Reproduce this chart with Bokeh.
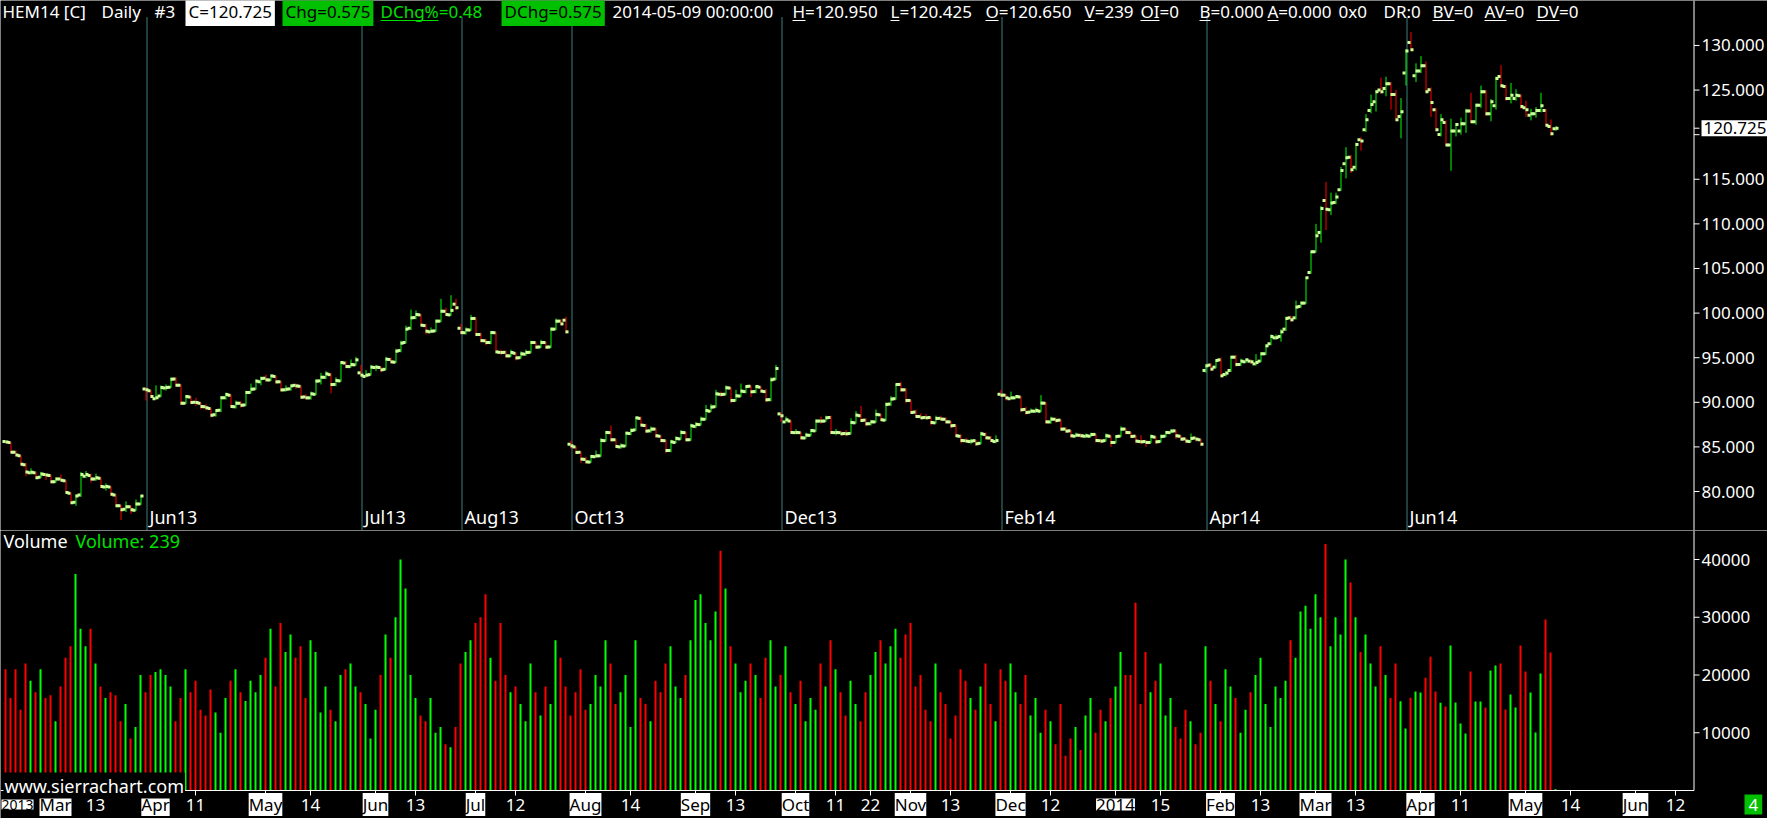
from bokeh.plotting import figure
from bokeh.models import ColumnDataSource, Range1d, Label, LabelSet
from bokeh.layouts import column
from bokeh.transform import dodge
from bokeh.core.properties import value
from bokeh.embed import file_html
from bokeh.resources import INLINE

# ---------------- data (one entry per daily bar, HEM14 continuous) ----------------
opens = [
    85.60, 85.50, 84.40, 84.00, 83.00, 82.10, 82.10, 81.60, 81.90, 81.80, 81.10, 81.40, 81.20, 79.80,
    78.80, 79.60, 81.70, 81.80, 81.40, 81.50, 80.50, 80.50, 79.60, 78.40, 78.00, 78.30, 77.90, 78.60,
    91.50, 91.30, 90.40, 90.70, 91.60, 91.70, 92.60, 91.90, 89.90, 90.60, 90.00, 89.90, 89.50, 89.30,
    88.60, 89.10, 90.50, 90.80, 89.50, 89.90, 89.70, 91.10, 91.50, 92.30, 92.70, 92.50, 92.90, 92.30,
    91.40, 91.50, 91.90, 91.80, 90.60, 90.50, 90.90, 92.40, 92.80, 93.10, 92.00, 92.40, 94.40, 94.00,
    94.20,
    93.30, 92.90, 93.10, 93.90, 93.90, 93.70, 94.80, 94.50, 95.80, 96.70, 98.30, 99.50, 99.80, 98.60,
    97.90, 98.00, 99.10, 100.20, 99.80, 101.00,
    98.30, 97.80, 98.10, 99.40, 97.60, 96.90, 96.70, 97.80, 95.60, 95.60, 95.20, 95.50, 95.00, 95.40,
    95.60, 96.70, 96.20, 96.70, 96.20, 98.20, 99.10, 99.20,
    85.30, 85.00, 84.40, 83.60, 83.30, 83.90, 84.00, 85.70, 86.60, 85.80, 85.00, 85.10, 86.50, 86.90,
    88.20, 87.40, 86.80, 87.00, 86.20, 85.70, 84.60, 85.50, 85.90, 86.60, 85.80, 87.30, 87.50, 88.10,
    89.00, 89.50, 90.90, 90.90, 91.60, 90.20, 90.70, 91.20, 91.80, 91.20, 91.70, 91.20, 90.30, 92.60,
    88.70, 87.80, 87.90, 86.60, 86.60, 86.00, 86.30, 86.80, 87.90, 87.90, 88.30, 86.60, 86.60, 86.50,
    86.50, 87.70, 88.50, 88.00, 87.60, 87.80, 88.60, 88.00, 89.80, 90.40, 92.00, 91.40, 90.20, 88.90,
    88.40, 88.30, 88.30, 87.70, 88.20, 88.10, 87.80, 87.40, 86.20, 85.70, 85.60, 85.70, 85.40, 86.40,
    86.00, 85.60,
    90.90, 90.80, 90.40, 90.50, 90.60, 89.20, 88.90, 89.00, 89.00, 89.90, 87.80, 88.10, 88.00, 87.00,
    86.80, 86.20, 86.30, 86.20, 86.20, 86.40, 85.70, 85.70, 86.20, 85.50, 86.20, 87.00, 86.60, 86.20,
    85.60, 85.60, 85.50, 86.10, 85.60, 86.20, 86.60, 86.80, 86.20, 85.90, 85.60, 86.00, 85.80,
    93.57, 94.17, 93.94, 94.76, 93.12, 93.57, 95.06, 94.24, 94.54, 94.61, 94.31, 94.61, 95.44, 96.56,
    97.23, 97.38, 98.20, 99.47, 99.47, 100.74, 101.12, 104.55, 106.87, 109.04, 112.63, 111.58, 112.40,
    113.82, 116.74, 117.48, 116.36, 119.43, 120.55, 122.72, 123.69, 125.00, 125.18, 125.71, 124.51,
    122.04,
    126.90, 130.34, 126.60, 127.13, 127.72, 125.03, 122.79, 120.03, 121.37, 118.83, 120.40, 120.40,
    121.22, 122.64, 121.45, 123.31, 124.81, 122.34, 123.24, 126.53, 125.41, 124.06, 124.06, 124.36,
    123.01, 122.19, 122.34, 122.72, 122.72, 120.92, 120.65,
]
highs = [
    85.70, 85.55, 84.60, 84.10, 83.20, 82.60, 82.20, 82.20, 82.00, 81.90, 81.60, 81.90, 81.30, 79.90,
    79.70, 82.20, 82.30, 82.00, 82.00, 81.60, 80.90, 80.60, 79.70, 78.50, 78.90, 78.40, 79.10, 79.60,
    91.70, 91.40, 91.90, 91.90, 92.00, 92.80, 92.80, 92.00, 90.80, 90.70, 90.50, 90.00, 89.80, 89.40,
    89.20, 90.70, 91.10, 90.90, 90.20, 90.10, 91.30, 92.10, 92.60, 92.90, 93.10, 93.10, 93.00, 92.40,
    91.90, 92.00, 92.10, 91.90, 90.90, 91.20, 92.60, 93.30, 93.50, 93.30, 92.80, 94.60, 94.60, 94.80,
    95.10,
    94.20, 93.60, 94.20, 94.20, 94.00, 95.10, 95.00, 96.00, 96.90, 98.60, 100.40, 100.30, 99.90, 98.80,
    98.40, 99.30, 101.60, 100.60, 102.00, 101.60,
    98.80, 98.40, 99.80, 99.50, 97.80, 97.10, 98.00, 97.90, 95.90, 95.80, 95.90, 95.60, 95.70, 95.90,
    96.90, 96.80, 97.00, 96.80, 98.40, 99.40, 99.30, 99.60,
    85.70, 85.10, 84.50, 83.90, 84.10, 84.60, 86.00, 86.80, 87.40, 85.90, 85.40, 86.70, 87.10, 88.40,
    88.40, 87.60, 87.30, 87.10, 86.30, 85.80, 85.80, 86.20, 86.90, 86.70, 87.60, 87.80, 88.40, 89.70,
    89.80, 91.40, 91.20, 91.90, 91.70, 91.40, 92.10, 91.90, 91.90, 91.90, 91.80, 91.50, 92.80, 94.20,
    88.90, 88.40, 88.00, 87.00, 86.70, 86.60, 87.00, 88.10, 88.40, 88.50, 88.50, 87.00, 86.80, 86.90,
    88.20, 89.00, 89.60, 88.20, 88.00, 89.20, 88.70, 90.00, 90.70, 92.00, 92.30, 91.60, 90.30, 89.20,
    88.80, 88.70, 88.40, 88.50, 88.50, 88.30, 87.90, 87.50, 86.40, 86.00, 85.90, 85.80, 86.70, 86.60,
    86.20, 86.30,
    91.40, 90.90, 91.20, 90.80, 90.70, 89.50, 89.30, 89.40, 90.80, 90.00, 88.40, 88.30, 88.10, 87.20,
    86.90, 86.60, 86.50, 86.50, 86.60, 86.50, 85.90, 86.50, 86.30, 86.30, 87.30, 87.10, 86.70, 86.30,
    86.30, 85.80, 86.40, 86.20, 86.40, 86.80, 87.00, 86.90, 86.30, 86.00, 86.50, 86.10, 85.90,
    94.30, 94.40, 94.80, 95.00, 93.50, 95.20, 95.30, 94.90, 94.90, 94.80, 95.40, 95.60, 96.50, 97.60,
    97.60, 98.20, 99.60, 99.70, 101.40, 101.30, 104.00, 106.90, 110.00, 112.00, 114.70, 113.50, 113.50,
    116.40, 118.60, 117.70, 119.10, 119.70, 122.30, 124.50, 125.00, 126.40, 126.50, 125.90, 125.00,
    124.10,
    129.60, 131.50, 128.00, 128.80, 128.20, 125.30, 123.00, 122.30, 121.60, 121.80, 121.30, 121.90,
    122.90, 124.70, 123.50, 125.50, 125.00, 124.00, 126.50, 127.80, 125.60, 125.80, 125.10, 124.50,
    123.80, 122.90, 123.10, 124.70, 122.90, 121.70, 120.95,
]
lows = [
    85.40, 84.30, 83.90, 82.95, 81.70, 81.90, 81.40, 81.50, 81.30, 80.90, 81.00, 81.10, 79.80, 78.60,
    78.40, 79.40, 81.50, 81.00, 81.20, 80.40, 80.10, 79.50, 78.30, 76.80, 77.70, 77.50, 77.80, 78.50,
    90.20, 90.50, 90.30, 90.60, 91.30, 91.60, 91.80, 89.70, 89.80, 89.80, 89.60, 89.20, 89.10, 88.30,
    88.40, 88.90, 90.30, 89.40, 89.30, 89.40, 89.60, 91.00, 91.40, 91.90, 92.30, 92.40, 92.10, 91.20,
    91.20, 91.30, 91.50, 90.40, 90.30, 90.30, 90.80, 92.00, 92.60, 91.00, 91.80, 92.30, 93.80, 93.90,
    94.10,
    92.90, 92.80, 93.00, 93.50, 93.40, 93.60, 94.40, 94.40, 95.60, 96.60, 98.10, 99.30, 98.50, 97.60,
    97.80, 97.90, 99.00, 99.70, 99.70, 100.30,
    97.60, 97.60, 98.00, 97.40, 96.70, 96.40, 96.50, 95.50, 95.30, 95.00, 95.10, 94.70, 94.90, 95.20,
    95.50, 96.00, 96.10, 96.00, 96.10, 98.10, 98.60, 97.70,
    84.80, 84.20, 83.20, 83.10, 83.20, 83.80, 83.90, 85.60, 85.60, 84.90, 84.80, 85.00, 86.30, 86.80,
    87.30, 86.60, 86.60, 86.00, 85.50, 84.30, 84.40, 85.40, 85.80, 85.60, 85.70, 87.10, 87.40, 88.00,
    88.90, 89.40, 90.60, 90.80, 89.90, 90.10, 90.60, 91.00, 90.60, 91.00, 91.10, 90.00, 90.10, 92.50,
    87.80, 87.70, 86.50, 86.40, 85.80, 85.90, 86.20, 86.70, 87.60, 87.80, 86.40, 86.30, 86.30, 86.20,
    86.40, 87.60, 87.80, 87.30, 87.40, 87.70, 87.90, 87.90, 89.60, 90.30, 91.20, 89.90, 88.70, 88.30,
    88.10, 88.10, 87.40, 87.60, 87.90, 87.60, 87.10, 86.10, 85.40, 85.50, 85.30, 85.10, 85.30, 85.80,
    85.50, 85.40,
    90.60, 90.20, 90.30, 90.40, 88.90, 88.60, 88.80, 88.80, 88.90, 87.60, 87.60, 87.70, 86.80, 86.60,
    86.00, 86.10, 86.00, 86.00, 86.10, 85.50, 85.40, 85.60, 85.00, 85.40, 86.10, 86.40, 86.00, 85.40,
    85.30, 85.00, 85.40, 85.30, 85.50, 86.10, 86.50, 85.90, 85.70, 85.40, 85.50, 85.60, 85.10,
    93.30, 93.50, 93.80, 92.80, 92.90, 93.40, 94.00, 94.10, 94.40, 94.30, 94.10, 94.50, 95.30, 96.40,
    97.00, 96.80, 98.00, 99.00, 99.30, 100.60, 101.00, 104.40, 106.80, 107.90, 109.30, 111.00, 112.20,
    113.70, 115.10, 115.70, 116.00, 118.20, 120.30, 122.40, 122.60, 124.60, 124.30, 122.80, 121.50,
    119.60,
    125.50, 129.40, 125.90, 126.90, 124.70, 122.00, 120.40, 119.80, 118.70, 115.95, 119.80, 120.00,
    120.20, 121.30, 121.10, 123.00, 122.10, 121.50, 122.80, 125.30, 123.80, 123.50, 123.80, 122.90,
    122.00, 121.60, 121.90, 122.50, 120.90, 119.90, 120.425,
]
closes = [
    85.55, 84.40, 84.10, 83.05, 82.20, 82.15, 81.55, 81.95, 81.85, 81.10, 81.40, 81.25, 79.90, 78.75,
    79.50, 81.90, 81.90, 81.40, 81.55, 80.55, 80.55, 79.70, 78.40, 77.95, 78.30, 77.95, 78.60, 79.50,
    91.40, 90.65, 90.50, 91.66, 91.66, 92.59, 91.92, 89.90, 90.65, 89.97, 89.97, 89.53, 89.38, 88.55,
    89.08, 90.50, 90.87, 89.53, 89.90, 89.68, 91.10, 91.47, 92.37, 92.67, 92.52, 92.96, 92.29, 91.39,
    91.47, 91.84, 91.84, 90.57, 90.50, 90.95, 92.37, 92.81, 93.19, 91.99, 92.44, 94.46, 94.01, 94.23,
    94.76,
    93.04, 93.04, 93.94, 93.94, 93.64, 94.83, 94.53, 95.73, 96.63, 98.20, 99.47, 99.84, 98.64, 97.97,
    97.97, 99.09, 100.21, 99.84, 100.30, 100.60,
    97.82, 98.12, 99.39, 97.60, 96.92, 96.70, 97.82, 95.65, 95.58, 95.21, 95.58, 94.98, 95.43, 95.58,
    96.70, 96.18, 96.70, 96.18, 98.20, 99.09, 98.79, 97.90,
    85.12, 84.38, 83.63, 83.33, 83.93, 84.00, 85.72, 86.62, 85.80, 85.05, 85.12, 86.54, 86.84, 88.26,
    87.44, 86.77, 86.99, 86.25, 85.72, 84.60, 85.57, 85.95, 86.62, 85.80, 87.37, 87.52, 88.11, 89.08,
    89.46, 90.95, 90.88, 91.63, 90.21, 90.73, 91.25, 91.77, 91.18, 91.77, 91.25, 90.28, 92.52, 93.79,
    88.49, 88.04, 86.62, 86.62, 86.02, 86.32, 86.84, 87.89, 87.89, 88.26, 86.62, 86.62, 86.47, 86.47,
    87.74, 88.56, 87.96, 87.59, 87.81, 88.64, 88.04, 89.76, 90.36, 92.00, 91.40, 90.21, 88.86, 88.41,
    88.26, 88.26, 87.74, 88.19, 88.11, 87.81, 87.37, 86.25, 85.72, 85.65, 85.65, 85.35, 86.47, 86.02,
    85.72, 85.72,
    90.80, 90.50, 90.50, 90.65, 89.16, 88.86, 89.01, 89.08, 89.91, 87.81, 88.11, 87.96, 86.99, 86.77,
    86.25, 86.32, 86.25, 86.25, 86.39, 85.72, 85.65, 86.25, 85.50, 86.17, 86.99, 86.62, 86.17, 85.65,
    85.57, 85.50, 86.17, 85.57, 86.17, 86.62, 86.77, 86.25, 85.87, 85.65, 85.95, 85.87, 85.30,
    94.09, 93.72, 94.69, 92.97, 93.27, 95.06, 94.24, 94.61, 94.76, 94.54, 94.46, 95.44, 96.33, 97.38,
    97.25, 97.90, 99.40, 99.25, 100.67, 101.12, 103.96, 106.87, 108.66, 111.73, 111.65, 112.33, 113.00,
    115.99, 117.41, 116.06, 118.90, 119.28, 121.67, 123.39, 124.81, 124.81, 125.71, 124.51, 121.67,
    122.57,
    129.37, 129.52, 127.13, 127.72, 124.81, 123.61, 120.55, 121.67, 118.83, 120.40, 121.15, 121.22,
    122.64, 121.45, 123.31, 124.81, 122.34, 123.69, 126.30, 125.48, 124.06, 124.43, 124.43, 123.16,
    122.79, 122.34, 122.72, 123.24, 121.07, 120.10, 120.725,
]
volumes = [
    21000, 16000, 21000, 14000, 22000, 19000, 17000, 21000, 16000, 16500, 12000, 18000, 23000, 25000,
    37500, 28000, 25000, 28000, 22000, 18000, 16000, 17000, 16500, 12000, 15000, 9000, 11000, 20000,
    17000, 20000, 20500, 21000, 20000, 18000, 12000, 16000, 21000, 17000, 19000, 14000, 13000, 17500,
    13500, 10000, 16000, 19000, 21000, 17000, 15500, 19000, 17000, 20000, 23000, 28000, 18000, 29000,
    24000, 27000, 23000, 25000, 16000, 26000, 24000, 13500, 18000, 14000, 12000, 20000, 21000, 22000,
    18000,
    17000, 15000, 9000, 14000, 20000, 27000, 23000, 30000, 40000, 35000, 20000, 16000, 13000, 12000,
    16000, 10000, 11000, 8000, 7500, 11000,
    22000, 24000, 26000, 29000, 30000, 34000, 23000, 19000, 29000, 20000, 17000, 18000, 15000, 12000,
    22000, 17000, 13000, 18000, 15000, 26000, 23000, 18000,
    13000, 17000, 21000, 14000, 15000, 20000, 18000, 26000, 22000, 15000, 17000, 20000, 11000, 26000,
    16000, 15000, 12000, 19000, 17000, 22000, 25000, 18000, 16000, 20000, 26000, 33000, 34000, 29000,
    26000, 31000, 41500, 35000, 25000, 22000, 17000, 19000, 22000, 20000, 16000, 23000, 26000, 18000,
    20000, 25000, 17000, 15000, 19000, 12000, 16000, 14000, 22000, 18000, 26000, 21000, 17000, 13000,
    19000, 15000, 12000, 17000, 20000, 24000, 26000, 22000, 25000, 28000, 23000, 27000, 29000, 18000,
    20000, 14000, 12000, 22000, 17000, 15000, 9000, 13000, 21000, 19000, 16000, 14000, 18000, 22000,
    15000, 12000,
    21000, 19000, 22000, 17000, 15000, 20000, 13000, 16000, 10000, 14000, 12000, 8000, 15000, 6000,
    9000, 11000, 7000, 13000, 16000, 10000, 14000, 12000, 16000, 18000, 24000, 20000, 20000, 32500,
    15000, 24000, 17000, 19000, 22000, 13000, 16000, 11000, 9000, 14000, 12000, 8000, 10000,
    25000, 19000, 15000, 12000, 21000, 18000, 16000, 10000, 14000, 17000, 20000, 23000, 15000, 11000,
    18000, 16000, 19000, 26000, 23000, 31000, 32000, 28000, 34000, 30000, 42700, 25000, 30000, 27000,
    40000, 36000, 30000, 24000, 27000, 22000, 18000, 25000, 20000, 16000, 22000, 15470,
    10740, 16050, 17140, 16970, 19510, 23150, 17140, 15190, 14550, 25100, 15240, 11600, 9870, 20600,
    15410, 15410, 14370, 20780, 21650, 21990, 14030, 16620, 14370, 25100, 20600, 16970, 10040, 20260,
    29600, 23900, 239,
]
# contract roll markers (first bar of each contract) and their labels
roll_idx = [28, 71, 91, 113, 155, 199, 240, 280]
roll_labels = ["Jun13", "Jul13", "Aug13", "Oct13", "Dec13", "Feb14", "Apr14", "Jun14"]
# date axis: bar index and label (first label is the year at the left edge)
year_label = "2013"
date_idx = [10, 18, 30, 38, 52, 61, 74, 82, 94, 102, 116, 125, 138, 146, 158, 166, 173,
            181, 189, 201, 209, 222, 231, 243, 251, 262, 270, 283, 291, 304, 313, 326, 334]
date_text = ["Mar", "13", "Apr", "11", "May", "14", "Jun", "13", "Jul", "12", "Aug", "14",
             "Sep", "13", "Oct", "11", "22", "Nov", "13", "Dec", "12", "2014", "15", "Feb", "13",
             "Mar", "13", "Apr", "11", "May", "14", "Jun", "12"]
price_ticks = [80, 85, 90, 95, 100, 105, 110, 115, 120, 125, 130]
vol_ticks = [10000, 20000, 30000, 40000]
last_price = 120.725

# ---------------- layout constants ----------------
FONT = "Noto Sans"
FS = "17px"
FSL = "18px"
W, FW = 1767, 1694
HP, HV = 530, 288
X0 = -1.0
XE = X0 + W / 5.0          # whole canvas width is plot frame
XA = X0 + FW / 5.0         # price/volume scale line position
P_BOT, P_TOP = 75.63, 135.04
V_BOT, V_TOP = -4848.0, 45022.0
GREEN, RED, TICKSQ = "#00ff00", "#ff0000", "#ccff99"
BOXGREEN = "#00c000"


def kx(px):
    return X0 + (px - 8) / 5.0


def py(fy):
    return P_TOP - fy * (P_TOP - P_BOT) / HP


def vy(fy):
    return V_TOP - fy * (V_TOP - V_BOT) / HV


n = len(closes)
cols = [GREEN if c >= o else RED for o, c in zip(opens, closes)]
src = ColumnDataSource(dict(x=list(range(n)), o=opens, h=highs, l=lows, c=closes,
                            v=volumes, col=cols))

xr = Range1d(X0, XE)


def make_fig(h, yr):
    fig = figure(width=W, height=h, x_range=xr, y_range=yr, x_axis_location=None,
                 y_axis_location=None, output_backend="svg", toolbar_location=None,
                 min_border=0)
    fig.background_fill_color = "black"
    fig.border_fill_color = "black"
    fig.outline_line_color = None
    fig.grid.grid_line_color = None
    return fig


# ---------------- price pane ----------------
P = make_fig(HP, Range1d(P_BOT, P_TOP))

# price scale (right)
P.segment(x0=XA - 0.1, x1=XA - 0.1, y0=P_BOT, y1=P_TOP, line_color="white", line_width=1)
shown = [t for t in price_ticks if abs(t - last_price) > 1.5]
pt = ColumnDataSource(dict(y=price_ticks))
pl = ColumnDataSource(dict(y=shown, t=["%.3f" % t for t in shown]))
P.segment(x0=XA - 0.1, x1=XA + 1.0, y0="y", y1="y", source=pt, line_color="white")
P.text(x=XA + 1.4, y="y", text="t", source=pl, text_color="white", text_font=value(FONT),
       text_font_size=FS, text_baseline="middle", text_align="left")
P.segment(x0=XA - 0.1, x1=XA + 1.0, y0=last_price, y1=last_price, line_color="white")
P.add_layout(Label(x=XA + 1.4, y=last_price, text="%.3f" % last_price, text_color="black",
                   background_fill_color="white", text_font=FONT, text_font_size=FS,
                   text_baseline="middle", text_align="left", padding=2))

rsrc = ColumnDataSource(dict(x=roll_idx, t=roll_labels))
P.segment(x0=dodge("x", 0.3), x1=dodge("x", 0.3), y0=P_BOT, y1=py(17), source=rsrc,
          line_color="#7fffff", line_width=1, line_dash="1 1")
P.text(x="x", y=py(516), text="t", source=rsrc, x_offset=4, text_color="white",
       text_font=value(FONT), text_font_size=FSL, text_baseline="middle")

P.segment(x0=dodge("x", 0.1), x1=dodge("x", 0.1), y0="l", y1="h", source=src,
          line_color="col", line_width=1)
P.scatter(x=dodge("x", -0.3), y="o", source=src, marker="square", size=3,
          fill_color=TICKSQ, line_color=None)
P.scatter(x=dodge("x", 0.3), y="c", source=src, marker="square", size=3,
          fill_color=TICKSQ, line_color=None)

# header
HY, UY = py(11), py(20)
header = [
    ("HEM14 [C]", 10, "white", None, 0),
    ("Daily", 109, "white", None, 0),
    ("#3", 162, "white", None, 0),
    ("C=120.725", 193, "black", "white", 11),
    ("Chg=0.575", 290, "black", BOXGREEN, 31),
    ("DChg%=0.48", 388, "#00e000", None, 58),
    ("DChg=0.575", 509, "black", BOXGREEN, 44),
    ("2014-05-09 00:00:00", 620, "white", None, 0),
    ("H=120.950", 800, "white", None, 13),
    ("L=120.425", 898, "white", None, 9),
    ("O=120.650", 993, "white", None, 13),
    ("V=239", 1092, "white", None, 10),
    ("OI=0", 1148, "white", None, 19),
    ("B=0.000", 1207, "white", None, 11),
    ("A=0.000", 1275, "white", None, 11),
    ("0x0", 1346, "white", None, 0),
    ("DR:0", 1391, "white", None, 0),
    ("BV=0", 1440, "white", None, 22),
    ("AV=0", 1492, "white", None, 22),
    ("DV=0", 1544, "white", None, 23),
]
for txt, px, colr, bg, uw in header:
    kw = dict(background_fill_color=bg, padding=3) if bg else {}
    P.add_layout(Label(x=kx(px), y=HY, text=txt, text_color=colr, text_font=FONT,
                       text_font_size=FS, text_baseline="middle", text_align="left", **kw))
    if uw:
        P.segment(x0=kx(px), x1=kx(px + uw), y0=UY, y1=UY, line_color=colr, line_width=1)

# ---------------- volume pane ----------------
V = make_fig(HV, Range1d(V_BOT, V_TOP))

V.vbar(x="x", top="v", bottom=0, width=0.4, source=src, fill_color="col", line_color=None)
V.segment(x0=X0, x1=XA - 0.1, y0=0, y1=0, line_color="white", line_width=1)
V.segment(x0=XA - 0.1, x1=XA - 0.1, y0=0, y1=V_TOP, line_color="white", line_width=1)
vt = ColumnDataSource(dict(y=vol_ticks, t=["%d" % t for t in vol_ticks]))
V.segment(x0=XA - 0.1, x1=XA + 1.0, y0="y", y1="y", source=vt, line_color="white")
V.text(x=XA + 1.4, y="y", text="t", source=vt, text_color="white", text_font=value(FONT),
       text_font_size=FS, text_baseline="middle", text_align="left")

boxed = [t.isalpha() or len(t) == 4 for t in date_text]
dsrc_box = ColumnDataSource(dict(x=[i for i, b in zip(date_idx, boxed) if b],
                                 t=[t for t, b in zip(date_text, boxed) if b]))
dsrc_day = ColumnDataSource(dict(x=[i for i, b in zip(date_idx, boxed) if not b],
                                 t=[t for t, b in zip(date_text, boxed) if not b]))
tsrc = ColumnDataSource(dict(x=date_idx))
V.segment(x0="x", x1="x", y0=0, y1=vy(265), source=tsrc, line_color="white", line_width=1)
DY = vy(274)
V.add_layout(LabelSet(x="x", y=DY, text="t", source=dsrc_box, text_color="black",
                      background_fill_color="white", text_font=value(FONT), text_font_size=FS,
                      text_align="center", text_baseline="middle"))
V.add_layout(LabelSet(x="x", y=DY, text="t", source=dsrc_day, text_color="white",
                      text_font=value(FONT), text_font_size=FS,
                      text_align="center", text_baseline="middle"))
V.add_layout(Label(x=kx(9), y=DY, text=year_label, text_color="black",
                   background_fill_color="white", text_font=FONT, text_font_size="14px",
                   text_baseline="middle", text_align="left"))

V.add_layout(Label(x=kx(11), y=vy(10), text="Volume", text_color="white", text_font=FONT,
                   text_font_size=FSL, text_baseline="middle"))
V.add_layout(Label(x=kx(83), y=vy(10), text="Volume: %d" % volumes[-1], text_color="#00e000",
                   text_font=FONT, text_font_size=FSL, text_baseline="middle"))
V.add_layout(Label(x=kx(11), y=vy(255), text="www.sierrachart.com", text_color="white",
                   background_fill_color="black", text_font=FONT, text_font_size=FSL,
                   text_baseline="middle", padding=1))
V.add_layout(Label(x=kx(1752), y=DY, text="4", text_color="white",
                   background_fill_color=BOXGREEN, text_font=FONT, text_font_size=FS,
                   text_baseline="middle", padding=4))

layout = column(P, V)
open("out.html", "w").write(file_html(layout, INLINE))
